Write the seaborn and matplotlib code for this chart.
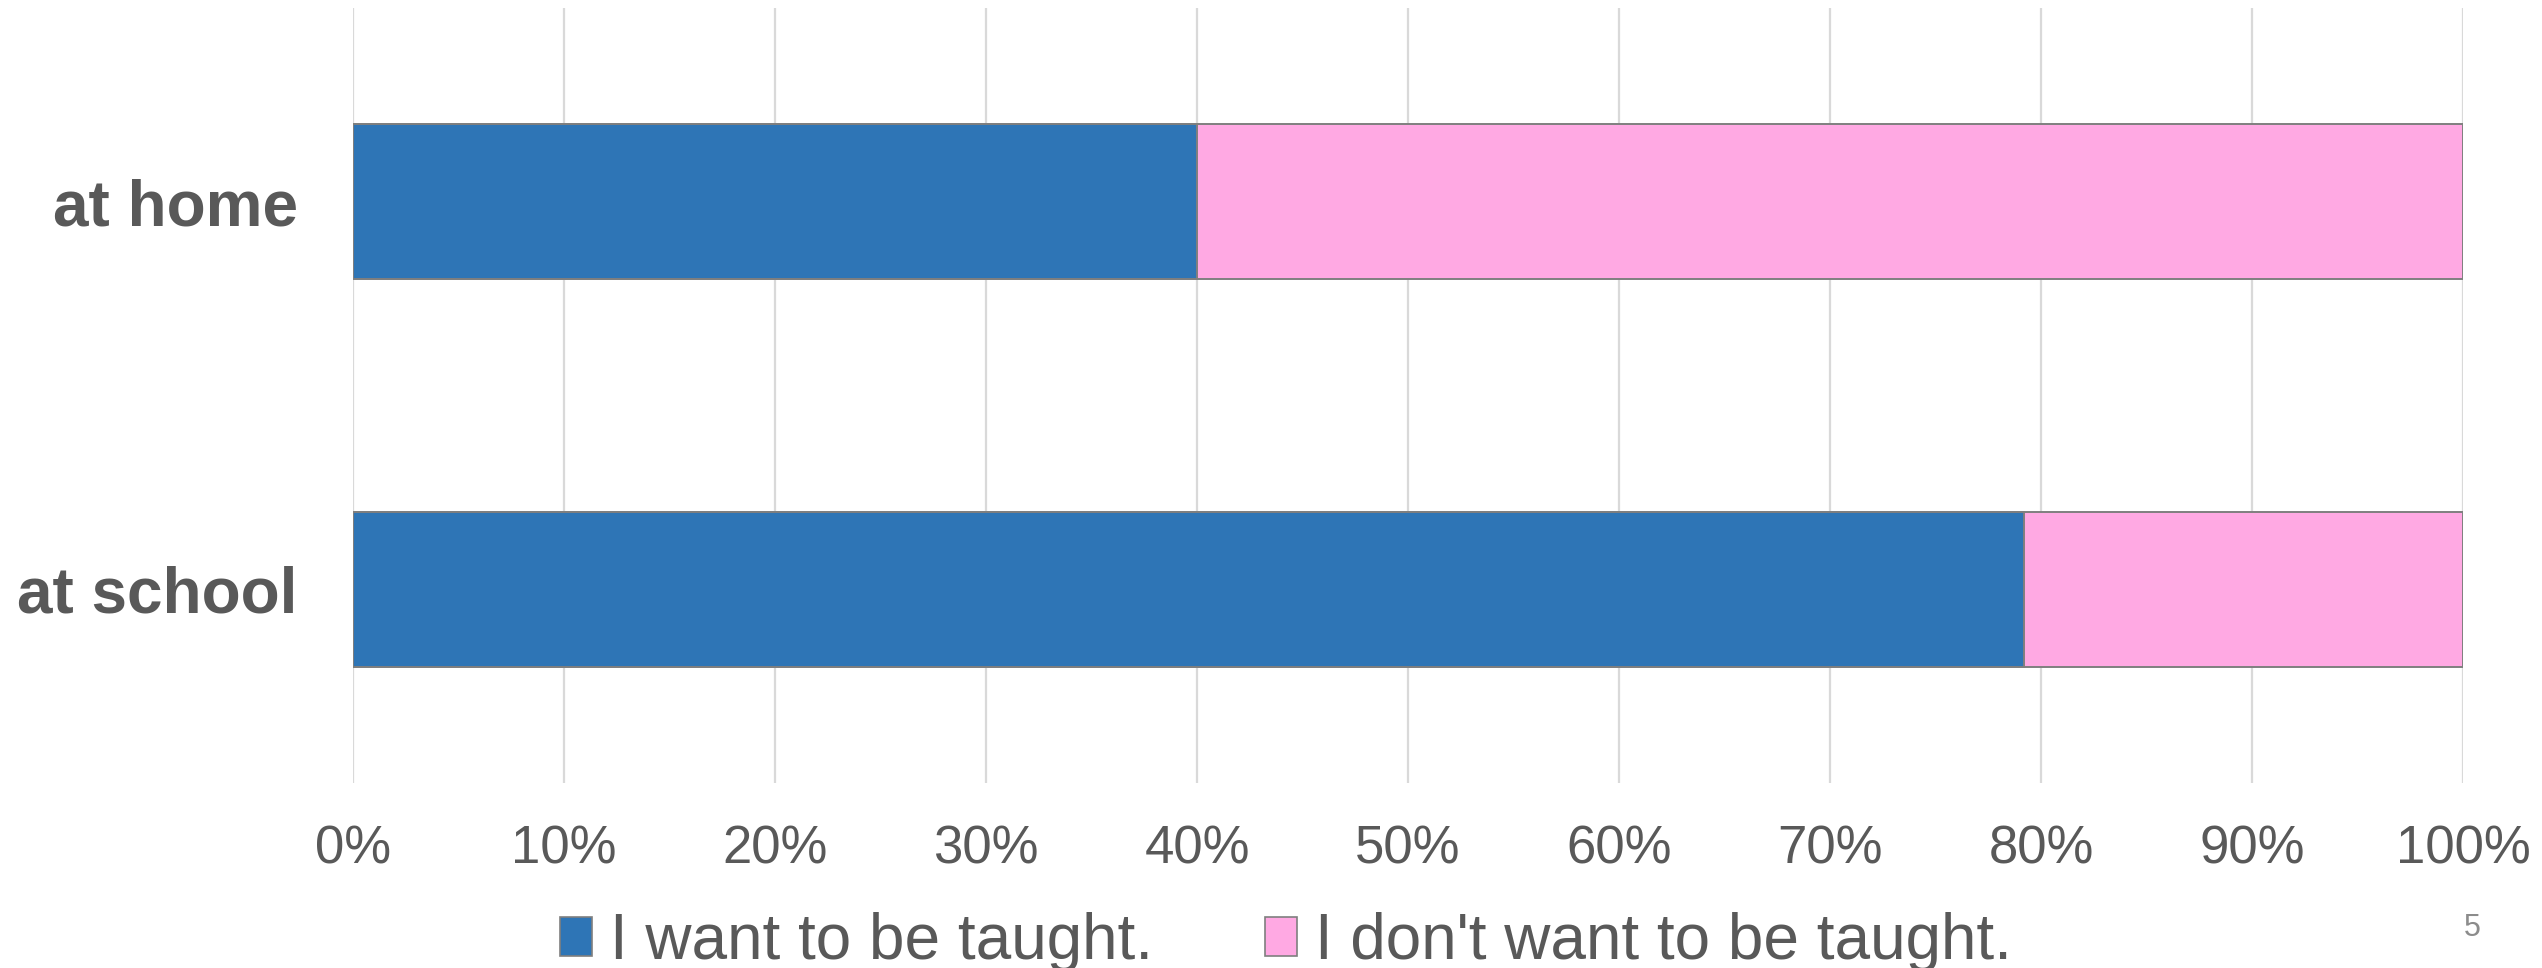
import matplotlib
matplotlib.use("Agg")
import matplotlib.pyplot as plt
import seaborn as sns
import pandas as pd
from matplotlib.patches import Patch

# data (percent)
places = ["at home", "at school"]
want = [40.0, 79.2]
dont_want = [60.0, 20.8]
series_labels = ["I want to be taught.", "I don't want to be taught."]
ticks = list(range(0, 101, 10))

blue = "#2E75B6"
pink = "#FFA9E3"
edge = "#7F7F7F"
text_col = "#595959"

sns.set_theme(style="white")
plt.rcParams["font.family"] = ["Liberation Sans", "DejaVu Sans"]

df = pd.DataFrame({"place": places, "want": want, "dont": dont_want})
df["total"] = df["want"] + df["dont"]

fig = plt.figure(figsize=(25.42, 9.68), dpi=100)
ax = fig.add_axes([0.1389, 0.1911, 0.8300, 0.8006])

# stacked bars: full length in pink, then the blue part on top
sns.barplot(data=df, x="total", y="place", color=pink, width=0.4,
            edgecolor=edge, linewidth=1.4, saturation=1, ax=ax, zorder=2)
sns.barplot(data=df, x="want", y="place", color=blue, width=0.4,
            edgecolor=edge, linewidth=1.4, saturation=1, ax=ax, zorder=3)

ax.set_xlim(0, 100)
ax.set_ylim(1.5, -0.5)
ax.set_xticks(ticks)
ax.set_xticklabels([f"{t}%" for t in ticks])
ax.set_xlabel("")
ax.set_ylabel("")
ax.grid(axis="x", color="#D9D9D9", linewidth=1.6, zorder=0)
ax.grid(axis="y", visible=False)
for s in ax.spines.values():
    s.set_visible(False)

ax.tick_params(axis="x", length=0, pad=30, labelsize=38, labelcolor=text_col)
ax.tick_params(axis="y", length=0, pad=40, labelsize=46, labelcolor=text_col)
for lab in ax.get_yticklabels():
    lab.set_fontweight("bold")

handles = [Patch(facecolor=blue, edgecolor=edge, linewidth=1.2),
           Patch(facecolor=pink, edgecolor=edge, linewidth=1.2)]
fig.legend(handles, series_labels, loc="center", bbox_to_anchor=(0.506, 0.027),
           ncol=2, frameon=False, fontsize=46, labelcolor=text_col,
           handlelength=0.5, handleheight=0.55, handletextpad=0.28,
           columnspacing=1.75, borderpad=0)

fig.text(0.9725, 0.041, "5", fontsize=22, color="#8C8C8C", ha="center", va="center")

fig.savefig("out.png", dpi=100)
